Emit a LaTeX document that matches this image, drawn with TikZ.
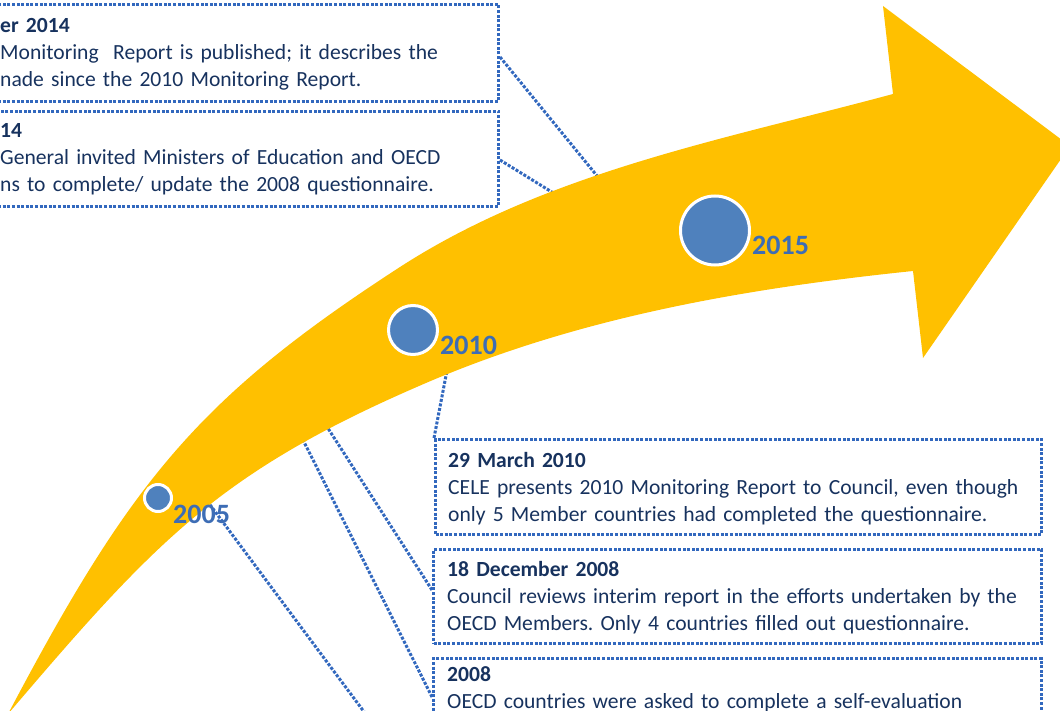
\documentclass[tikz,border=0pt]{standalone}
\usepackage{fontspec}
\setmainfont{Carlito}
\usetikzlibrary{calc}
\definecolor{arrowgold}{HTML}{FFC000}
\definecolor{dotblue}{HTML}{3268BE}
\definecolor{discblue}{HTML}{4F81BD}
\definecolor{yearblue}{HTML}{3D6DB5}
\definecolor{inknavy}{HTML}{17325E}
\newcommand\firstline{\rule{0pt}{18pt}}

\begin{document}
\frenchspacing
\begin{tikzpicture}[x=1pt,y=-1pt,
  dotline/.style={draw=dotblue, line width=3pt, dash pattern=on 3pt off 1.6pt},
  framebox/.style={dotline, rectangle, inner sep=0pt, anchor=north west},
  boxtext/.style={anchor=north west, inner sep=0pt, text width=640pt, align=left,
                  text=inknavy, font=\fontsize{21.6}{27}\selectfont},
  disc/.style={circle, fill=discblue, draw=white, line width=3pt, inner sep=0pt},
  year/.style={anchor=base west, inner sep=0pt, text=yearblue,
               font=\fontsize{28}{34}\selectfont\bfseries},
]
\useasboundingbox (0,0) rectangle (1060,711);
\clip (0,0) rectangle (1060,711);

% dotted frames of the events
\node[framebox, minimum width=597pt, minimum height=97pt] (boxA) at (-100,3) {};
\node[framebox, minimum width=597pt, minimum height=95pt] (boxB) at (-100,110) {};
\node[framebox, minimum width=606pt, minimum height=95pt] (boxC) at (434,438) {};
\node[framebox, minimum width=608pt, minimum height=94pt] (boxD) at (432,548) {};
\node[framebox, minimum width=608pt, minimum height=110pt] (boxE) at (432,657) {};

% ends of the leader lines, hidden under the arrow
\coordinate (hA) at (629,215);
\coordinate (hB) at (610,228);
\coordinate (hC) at (449,360);
\coordinate (hD) at (313,405);
\coordinate (hE) at (293,420);
\coordinate (hF) at (199,490);
\coordinate (offF) at (385,740);

% leader lines
\draw[dotline] ($(boxA.north east)+(0,54)$) -- (hA);
\draw[dotline] ($(boxB.north east)+(0,50)$) -- (hB);
\draw[dotline] (boxC.north west) -- (hC);
\draw[dotline] ($(boxD.north west)+(0,42)$) -- (hD);
\draw[dotline] ($(boxE.north west)+(0,40)$) -- (hE);
\draw[dotline] (hF) -- (offF);

% the curved timeline arrow
\fill[arrowgold] (8,714)
  .. controls (131,481) and (198,398) .. (400,267)
  .. controls (547,172) and (724,139.5) .. (893,94)
  -- (883,6) -- (1070,146) -- (923,358) -- (913,271)
  .. controls (749,288) and (585,316) .. (433,380)
  .. controls (221,470) and (158,538) .. (8,714) -- cycle;

% milestones
\node[disc, minimum size=27pt] (d2005) at (158,498) {};
\node[disc, minimum size=49pt] (d2010) at (413,330) {};
\node[disc, minimum size=69pt] (d2015) at (715,230.5) {};
\node[year] (y2005) at (173,523) {2005};
\node[year] (y2010) at (440,354) {2010};
\node[year] (y2015) at (752,255) {2015};

% event texts
\node[boxtext] (tA) at (0,14) {\firstline{\bfseries er 2014}\\
  Monitoring~ Report is published; it describes the\\
  nade since the 2010 Monitoring Report.};
\node[boxtext] (tB) at (0,119) {\firstline{\bfseries 14}\\
  General invited Ministers of Education and OECD\\
  ns to complete/ update the 2008 questionnaire.};
\node[boxtext] (tC) at ($(boxC.north west)+(14,11)$) {\firstline{\bfseries 29 March 2010}\\
  CELE presents 2010 Monitoring Report to Council, even though\\
  only 5 Member countries had completed the questionnaire.};
\node[boxtext] (tD) at ($(boxD.north west)+(15,10)$) {\firstline{\bfseries 18 December 2008}\\
  Council reviews interim report in the efforts undertaken by the\\
  OECD Members. Only 4 countries filled out questionnaire.};
\node[boxtext] (tE) at ($(boxE.north west)+(15,6)$) {\firstline{\bfseries 2008}\\
  OECD countries were asked to complete a self-evaluation};
\end{tikzpicture}
\end{document}
